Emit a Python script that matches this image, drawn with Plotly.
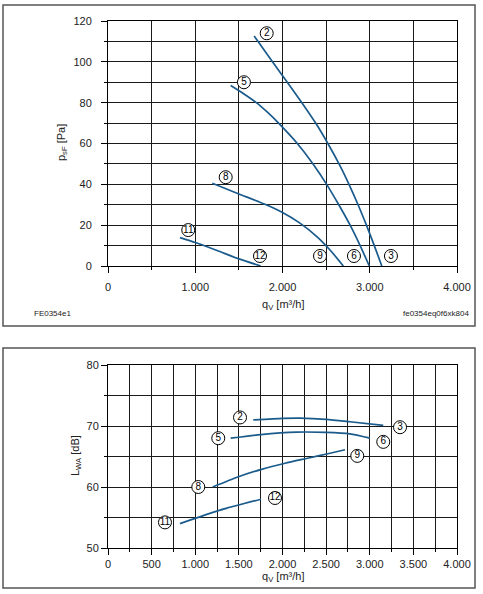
import plotly.graph_objects as go

# ---------------- data: top chart (static pressure p_sF [Pa] vs q_V [m3/h]) -------------
top_c2_3_x = [1675, 1885, 2055, 2222, 2380, 2520, 2648, 2762, 2866, 2962, 3052, 3138]
top_c2_3_y = [112.7, 100, 90, 80, 70, 60, 50, 40, 30, 20, 10, 0]
top_c5_6_x = [1406, 1550, 1700, 1830, 1955, 2170, 2350, 2506, 2645, 2775, 2890, 2995]
top_c5_6_y = [88.4, 84.5, 80, 75.2, 70, 60, 50, 40, 30, 20, 10, 0]
top_c8_9_x = [1196, 1500, 1800, 2000, 2200, 2400, 2550, 2697]
top_c8_9_y = [40.5, 35.3, 30.2, 26.2, 21.0, 14.2, 7.6, 0]
top_c11_12_x = [825, 1000, 1250, 1500, 1750]
top_c11_12_y = [13.9, 11.5, 7.6, 3.5, 0]

top_label_text = ["2", "5", "8", "11", "12", "9", "6", "3"]
top_label_x = [1819, 1558, 1349, 920, 1742, 2430, 2819, 3243]
top_label_y = [114.0, 90.0, 43.5, 17.6, 4.9, 4.9, 4.9, 4.9]

# ---------------- data: bottom chart (sound power L_WA [dB] vs q_V [m3/h]) --------------
bot_c2_3_x = [1665, 2000, 2200, 2500, 2773, 3155]
bot_c2_3_y = [71.0, 71.25, 71.3, 71.1, 70.7, 70.1]
bot_c5_6_x = [1406, 1750, 2162, 2500, 2773, 3002]
bot_c5_6_y = [68.0, 68.6, 69.0, 68.95, 68.7, 68.0]
bot_c8_9_x = [1200, 1480, 1760, 2030, 2300, 2520, 2716]
bot_c8_9_y = [60.0, 61.6, 62.9, 63.9, 64.75, 65.45, 66.1]
bot_c11_12_x = [825, 1284, 1753]
bot_c11_12_y = [54.0, 56.2, 58.0]

bot_label_text = ["2", "3", "5", "6", "9", "8", "12", "11"]
bot_label_x = [1513, 3347, 1264, 3155, 2857, 1035, 1914, 653]
bot_label_y = [71.4, 69.8, 68.0, 67.4, 65.1, 60.0, 58.2, 54.2]

# ---------------- styling -------------
W, H = 483, 594
CURVE = "#1b5b8c"
GRID = "#1a1a1a"
TXT = "#222222"
FONT = "Liberation Sans, Arial, sans-serif"


def px(x):
    return x / W


def py(y):
    return 1 - y / H


fig = go.Figure()

curves_top = [(top_c2_3_x, top_c2_3_y), (top_c5_6_x, top_c5_6_y),
              (top_c8_9_x, top_c8_9_y), (top_c11_12_x, top_c11_12_y)]
for cx, cy in curves_top:
    fig.add_trace(go.Scatter(x=cx, y=cy, mode="lines", xaxis="x", yaxis="y",
                             line=dict(color=CURVE, width=1.7, shape="spline", smoothing=0.6),
                             showlegend=False, hoverinfo="skip"))

curves_bot = [(bot_c2_3_x, bot_c2_3_y), (bot_c5_6_x, bot_c5_6_y),
              (bot_c8_9_x, bot_c8_9_y), (bot_c11_12_x, bot_c11_12_y)]
for cx, cy in curves_bot:
    fig.add_trace(go.Scatter(x=cx, y=cy, mode="lines", xaxis="x2", yaxis="y2",
                             line=dict(color=CURVE, width=1.7, shape="spline", smoothing=0.6),
                             showlegend=False, hoverinfo="skip"))

label_marker = dict(size=13, color="white", line=dict(color="black", width=1))
fig.add_trace(go.Scatter(x=top_label_x, y=top_label_y, mode="markers+text", xaxis="x", yaxis="y",
                         text=top_label_text, textposition="middle center",
                         textfont=dict(family=FONT, size=10, color="black"),
                         marker=label_marker, showlegend=False, hoverinfo="skip", cliponaxis=False))
fig.add_trace(go.Scatter(x=bot_label_x, y=bot_label_y, mode="markers+text", xaxis="x2", yaxis="y2",
                         text=bot_label_text, textposition="middle center",
                         textfont=dict(family=FONT, size=10, color="black"),
                         marker=label_marker, showlegend=False, hoverinfo="skip", cliponaxis=False))

xdom = [px(108), px(457)]
axis_common = dict(showline=True, linecolor="black", linewidth=1, mirror=True,
                   showgrid=True, gridcolor=GRID, gridwidth=1, zeroline=False,
                   ticks="outside", ticklen=6, tickcolor="black", tickwidth=1,
                   tickfont=dict(family=FONT, size=11, color=TXT), fixedrange=True,
                   automargin=False)

fig.update_layout(
    width=W, height=H, autosize=False,
    margin=dict(l=0, r=0, t=0, b=0, pad=0, autoexpand=False),
    paper_bgcolor="white", plot_bgcolor="white",
    separators=",.",
    font=dict(family=FONT, color=TXT),
    xaxis=dict(domain=xdom, range=[0, 4000], dtick=1000, tickformat=",d", anchor="y",
               ticklabelstandoff=5,
               minor=dict(dtick=500, showgrid=True, gridcolor=GRID, ticks="outside",
                          ticklen=3, tickcolor="black"), **axis_common),
    yaxis=dict(domain=[py(266), py(21)], range=[0, 120], dtick=20, anchor="x",
               ticklabelstandoff=7,
               minor=dict(dtick=10, showgrid=True, gridcolor=GRID, ticks="outside",
                          ticklen=3, tickcolor="black"), **axis_common),
    xaxis2=dict(domain=xdom, range=[0, 4000], dtick=500, tickformat=",d", anchor="y2",
                minor=dict(dtick=250, showgrid=True, gridcolor=GRID, ticks="outside",
                           ticklen=3, tickcolor="black"), **axis_common),
    yaxis2=dict(domain=[py(548), py(365)], range=[50, 80], dtick=10, anchor="x2",
                minor=dict(dtick=5, showgrid=True, gridcolor=GRID, ticks="outside",
                           ticklen=3, tickcolor="black"), **axis_common),
)

# panel frames
for (y0, y1) in [(5, 326), (348, 588)]:
    fig.add_shape(type="rect", xref="paper", yref="paper",
                  x0=px(3), x1=px(475), y0=py(y1), y1=py(y0),
                  line=dict(color="#555555", width=1.5), fillcolor="rgba(0,0,0,0)", layer="below")

ann_font = dict(family=FONT, size=11, color=TXT)
ann_common = dict(xref="paper", yref="paper", showarrow=False, yanchor="middle")
fig.add_annotation(text="p<sub>sF</sub> [Pa]", x=px(62), y=py(143), textangle=-90,
                   xanchor="center", font=ann_font, **ann_common)
fig.add_annotation(text="q<sub>V</sub> [m³/h]", x=px(283), y=py(305),
                   xanchor="center", font=ann_font, **ann_common)
fig.add_annotation(text="L<sub>WA</sub> [dB]", x=px(76), y=py(456), textangle=-90,
                   xanchor="center", font=ann_font, **ann_common)
fig.add_annotation(text="q<sub>V</sub> [m³/h]", x=px(283), y=py(577),
                   xanchor="center", font=ann_font, **ann_common)
fig.add_annotation(text="FE0354e1", x=px(32), y=py(313), xanchor="left",
                   font=dict(family=FONT, size=8, color=TXT), **ann_common)
fig.add_annotation(text="fe0354eq0f6xk804", x=px(471), y=py(313), xanchor="right",
                   font=dict(family=FONT, size=8, color=TXT), **ann_common)

fig.write_html("out.html", config={"responsive": False, "displayModeBar": False},
               post_script="document.body.style.margin='0';document.body.style.overflow='hidden';")
